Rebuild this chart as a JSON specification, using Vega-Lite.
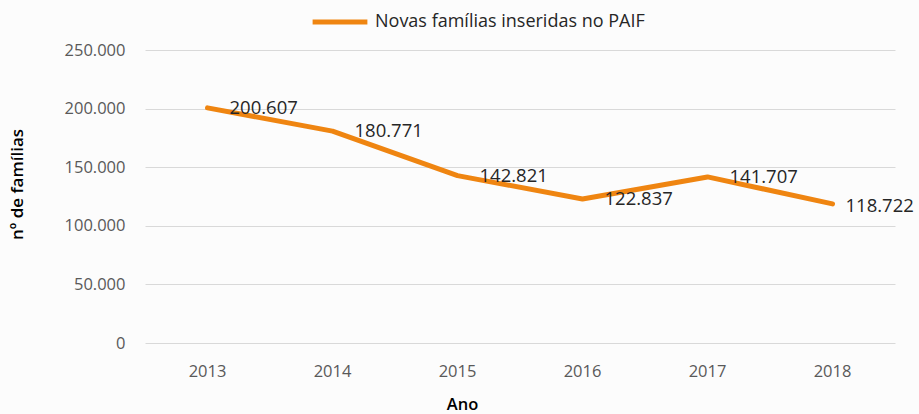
{
  "$schema": "https://vega.github.io/schema/vega-lite/v6.json",
  "width": 750,
  "height": 293,
  "autosize": {"type": "none"},
  "padding": {"left": 145, "top": 50, "right": 24, "bottom": 71},
  "background": "#fcfcfc",
  "config": {
    "locale": {"number": {"decimal": ",", "thousands": ".", "grouping": [3], "currency": ["R$", ""]}},
    "font": "Open Sans",
    "view": {"stroke": null}
  },
  "data": {
    "values": [
      {"ano": "2013", "familias": 200607, "serie": "Novas famílias inseridas no PAIF"},
      {"ano": "2014", "familias": 180771, "serie": "Novas famílias inseridas no PAIF"},
      {"ano": "2015", "familias": 142821, "serie": "Novas famílias inseridas no PAIF"},
      {"ano": "2016", "familias": 122837, "serie": "Novas famílias inseridas no PAIF"},
      {"ano": "2017", "familias": 141707, "serie": "Novas famílias inseridas no PAIF"},
      {"ano": "2018", "familias": 118722, "serie": "Novas famílias inseridas no PAIF"}
    ]
  },
  "encoding": {
    "x": {
      "field": "ano", "type": "ordinal",
      "scale": {"type": "band", "paddingInner": 0, "paddingOuter": 0},
      "axis": {
        "title": "Ano", "labelAngle": 0, "domain": false, "ticks": false, "grid": false,
        "labelFontSize": 16.5, "labelColor": "#595959", "labelPadding": 20, "labelFont": "Open Sans",
        "titleFontSize": 16.5, "titleFontWeight": 600, "titleColor": "#000000",
        "titleX": 317, "titleY": 61, "titleBaseline": "middle", "titleAnchor": "middle"
      }
    },
    "y": {
      "field": "familias", "type": "quantitative",
      "scale": {"domain": [0, 250000], "nice": false},
      "axis": {
        "title": "nº de famílias", "values": [0, 50000, 100000, 150000, 200000, 250000],
        "format": ",d", "domain": false, "ticks": false, "gridColor": "#d9d9d9", "gridWidth": 1.2,
        "labelFontSize": 16.5, "labelColor": "#595959", "labelPadding": 20,
        "titleFontSize": 17, "titleFontWeight": 600, "titleColor": "#000000",
        "titleX": -128, "titleY": 134, "titleAngle": -90, "titleBaseline": "middle"
      }
    }
  },
  "layer": [
    {
      "mark": {"type": "line", "strokeWidth": 5, "strokeCap": "round", "strokeJoin": "round"},
      "encoding": {
        "color": {
          "field": "serie", "type": "nominal",
          "scale": {"range": ["#ef8511"]},
          "legend": {
            "title": null, "orient": "none", "legendX": 165, "legendY": -58,
            "symbolType": "stroke", "symbolSize": 3000, "symbolStrokeWidth": 5,
            "labelFontSize": 18, "labelColor": "#262626", "labelOffset": 5, "labelLimit": 400
          }
        }
      }
    },
    {
      "transform": [{"filter": "datum.ano != '2018'"}],
      "mark": {"type": "text", "align": "left", "baseline": "middle", "dx": 22, "fontSize": 18.5, "color": "#262626"},
      "encoding": {"text": {"field": "familias", "type": "quantitative", "format": ",d"}}
    },
    {
      "transform": [{"filter": "datum.ano == '2018'"}],
      "mark": {"type": "text", "align": "left", "baseline": "middle", "dx": 13, "dy": 2, "fontSize": 18.5, "color": "#262626"},
      "encoding": {"text": {"field": "familias", "type": "quantitative", "format": ",d"}}
    }
  ]
}
